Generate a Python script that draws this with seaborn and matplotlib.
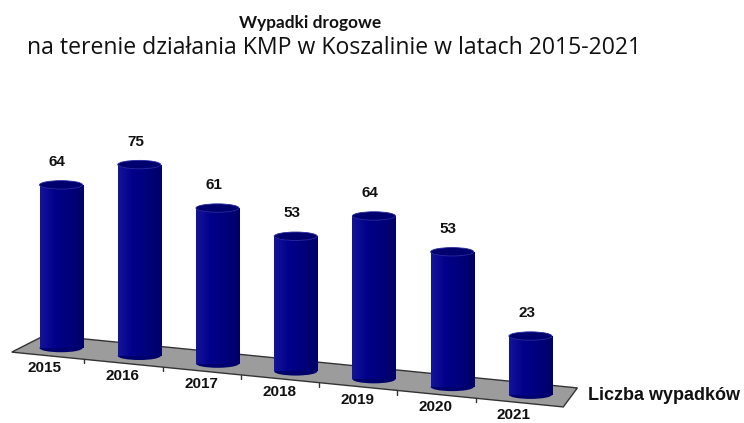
import numpy as np
import pandas as pd
import seaborn as sns
import matplotlib
matplotlib.use("Agg")
from matplotlib import pyplot as plt
from matplotlib.patches import Ellipse, Polygon
from matplotlib.colors import LinearSegmentedColormap

# data
years = ['2015', '2016', '2017', '2018', '2019', '2020', '2021']
accidents = [64, 75, 61, 53, 64, 53, 23]
series_name = 'Liczba wypadków'
title = 'Wypadki drogowe'
subtitle = 'na terenie działania KMP w Koszalinie w latach 2015-2021'

df = pd.DataFrame({'Rok': years, 'Wypadki': accidents})

sns.set_theme(style='white')
plt.rcParams['font.family'] = ['Liberation Sans', 'DejaVu Sans']

fig = plt.figure(figsize=(7.44, 4.23), dpi=100)
ax = fig.add_axes([0, 0, 1, 1])

bar_color = '#000080'
ax = sns.barplot(data=df, x='Rok', y='Wypadki', color=bar_color, ax=ax,
                 saturation=1, width=0.55, zorder=3)

n = len(years)
slant = 3.05      # baseline drop per category (fake perspective)
cap_h = 3.3       # ellipse height in data units
shade = LinearSegmentedColormap.from_list('cyl', ['#14149a', '#00008a', '#00007c', '#000066'])

# floor
floor = Polygon([(-0.63, -1.6), (-0.2, 5.1), (n - 1 + 0.6, 5.1 - slant * (n - 0.2)),
                 (n - 1 + 0.42, -1.6 - slant * (n - 1 + 1.05))],
                closed=True, facecolor='#9c9c9c', edgecolor='#333333', lw=1.0, zorder=1)
ax.add_patch(floor)

# ticks on the front edge
for i in range(n - 1):
    tx = i + 0.3
    ty = -1.6 - slant * (tx + 0.63)
    ax.plot([tx, tx], [ty, ty - 1.6], color='#333333', lw=1, zorder=2)

for i, patch in enumerate(ax.patches[:n]):
    base = -slant * i
    val = accidents[i]
    x0 = patch.get_x()
    w = patch.get_width()
    cx = x0 + w / 2
    patch.set_y(base)
    patch.set_edgecolor('none')
    # cylinder shading
    grad = np.linspace(0, 1, 50).reshape(1, -1)
    im = ax.imshow(grad, extent=[x0, x0 + w, base, base + val], cmap=shade,
                   aspect='auto', zorder=4, origin='lower')
    im.set_clip_path(patch)
    # rounded bottom and top cap
    ax.add_patch(Ellipse((cx, base), w, cap_h, facecolor='#00006c', edgecolor='none', zorder=2.5))
    ax.add_patch(Ellipse((cx, base + val), w, cap_h, facecolor='#00006e',
                         edgecolor='#2a2aa0', lw=0.6, zorder=5))
    # value label
    ax.text(cx - 0.05, base + val + 9, str(val), ha='center', va='center',
            fontsize=11, fontweight='bold', color='#111111', zorder=6)
    # category label
    ax.text(cx - 0.21, base - 8.0, years[i], ha='center', va='center',
            fontsize=11, fontweight='bold', color='#111111', zorder=6)

ax.text(n - 1 + 0.74, -slant * (n - 1) - 0.4, series_name, ha='left', va='center',
        fontsize=13, fontweight='bold', color='#111111')

ax.set_xlim(-0.78, 8.73)
ax.set_ylim(-29.4, 136.5)
ax.axis('off')

fig.text(0.417, 0.946, title, ha='center', va='center', fontsize=12.4,
         fontweight='bold', family=['Lato', 'DejaVu Sans'], color='#111111')
fig.text(0.449, 0.887, subtitle, ha='center', va='center', fontsize=16.6,
         family=['Open Sans', 'DejaVu Sans'], color='#111111')

fig.savefig('out.png', dpi=100)
